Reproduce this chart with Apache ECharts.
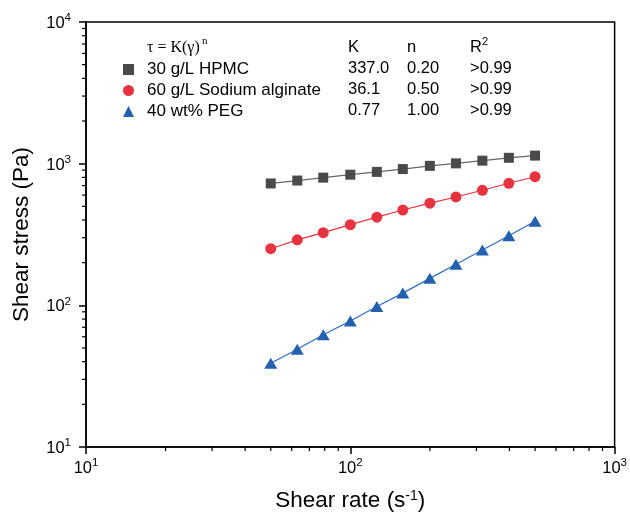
<!DOCTYPE html>
<html>
<head>
<meta charset="utf-8">
<script src="https://cdn.jsdelivr.net/npm/echarts@6/dist/echarts.min.js"></script>
<style>
  html, body { margin: 0; padding: 0; background: #fff; }
  #main { width: 630px; height: 518px; }
</style>
</head>
<body>
<div id="main"></div>
<script>
// shear rates (s^-1)
const shearRate = [50, 63, 79, 100, 126, 158, 200, 251, 316, 398, 500];
// shear stress (Pa)
const hpmc = [725, 760, 797, 836, 875, 916, 965, 1005, 1050, 1100, 1140];
const alginate = [251, 290, 326, 371, 419, 471, 526, 582, 649, 727, 809];
const peg = [39, 49, 62, 77.5, 98, 122, 155, 195, 246, 310, 392];

const seriesNames = ['30 g/L HPMC', '60 g/L Sodium alginate', '40 wt% PEG'];
const kVals = ['337.0', '36.1', '0.77'];
const nVals = ['0.20', '0.50', '1.00'];
const r2Vals = ['>0.99', '>0.99', '>0.99'];

// minor tick positions for the log axes
const xMinor = [20, 30, 40, 50, 60, 70, 80, 90, 200, 300, 400, 500, 600, 700, 800, 900];
const yMinor = [20, 30, 40, 50, 60, 70, 80, 90, 200, 300, 400, 500, 600, 700, 800, 900,
                2000, 3000, 4000, 5000, 6000, 7000, 8000, 9000];

const font = 'Arial, "Liberation Sans", sans-serif';
const serif = '"Liberation Serif", "Times New Roman", serif';
const pair = (ys) => shearRate.map((x, i) => [x, ys[i]]);

const chart = echarts.init(document.getElementById('main'));

const powRich = {
  b: { fontSize: 16.5, fontFamily: font, color: '#000', verticalAlign: 'bottom', lineHeight: 20 },
  s: { fontSize: 11.5, fontFamily: font, color: '#000', verticalAlign: 'top', lineHeight: 20, padding: [0, 0, 6, 0] }
};
const powLabel = (v) => '{b|10}{s|' + Math.round(Math.log10(v)) + '}';

const rowY = [68, 89, 110];
const graphics = [
  { type: 'text', left: 147, top: 40, style: { text: 'τ = K(γ)', fontFamily: serif, fontSize: 16, fill: '#000' } },
  { type: 'text', left: 202, top: 36, style: { text: 'n', fontFamily: serif, fontSize: 11, fill: '#000' } },
  { type: 'text', left: 348, top: 39, style: { text: 'K', fontFamily: font, fontSize: 16.5, fill: '#000' } },
  { type: 'text', left: 407, top: 39, style: { text: 'n', fontFamily: font, fontSize: 16.5, fill: '#000' } },
  { type: 'text', left: 470, top: 39, style: { text: 'R', fontFamily: font, fontSize: 16.5, fill: '#000' } },
  { type: 'text', left: 482, top: 36, style: { text: '2', fontFamily: font, fontSize: 11, fill: '#000' } }
];
[kVals, nVals, r2Vals].forEach((col, c) => {
  const x = [348, 407, 470][c];
  col.forEach((t, r) => {
    graphics.push({ type: 'text', left: x, top: rowY[r] - 8, style: { text: t, fontFamily: font, fontSize: 16.5, fill: '#000' } });
  });
});

chart.setOption({
  animation: false,
  backgroundColor: '#fff',
  grid: {
    left: 86, right: 14, top: 22, bottom: 71,
    show: true, borderColor: '#000', borderWidth: 1.5, backgroundColor: 'transparent'
  },
  legend: {
    orient: 'vertical',
    left: 118, top: 54,
    itemWidth: 11, itemHeight: 11, itemGap: 0,
    textStyle: { fontFamily: font, fontSize: 17, color: '#000', lineHeight: 21, padding: [0, 0, 0, 8] },
    data: [
      { name: seriesNames[0], icon: 'rect' },
      { name: seriesNames[1], icon: 'circle' },
      { name: seriesNames[2], icon: 'triangle' }
    ],
    selectedMode: false
  },
  graphic: graphics,
  xAxis: {
    type: 'log', logBase: 10, min: 10, max: 1000,
    name: 'Shear rate (s{s|-1})',
    nameLocation: 'middle', nameGap: 42,
    nameTextStyle: {
      fontFamily: font, fontSize: 22.5, color: '#000',
      rich: { s: { fontFamily: font, fontSize: 14, color: '#000', verticalAlign: 'top', padding: [0, 0, 9, 0] } }
    },
    axisLine: { lineStyle: { color: '#000', width: 1.5 } },
    axisTick: { show: true, inside: false, length: 7, lineStyle: { color: '#000', width: 1.5 } },
    axisLabel: { margin: 10, formatter: powLabel, rich: powRich },
    splitLine: { show: false }
  },
  yAxis: {
    type: 'log', logBase: 10, min: 10, max: 10000,
    name: 'Shear stress (Pa)',
    nameLocation: 'middle', nameGap: 53,
    nameTextStyle: { fontFamily: font, fontSize: 22.5, color: '#000' },
    axisLine: { lineStyle: { color: '#000', width: 1.5 } },
    axisTick: { show: true, inside: false, length: 7, lineStyle: { color: '#000', width: 1.5 } },
    axisLabel: { margin: 15, formatter: powLabel, rich: powRich },
    splitLine: { show: false }
  },
  series: [
    {
      name: seriesNames[0], type: 'line', data: pair(hpmc),
      symbol: 'rect', symbolSize: 10,
      itemStyle: { color: '#4a4a4a' },
      lineStyle: { color: '#666', width: 1.2 }
    },
    {
      name: seriesNames[1], type: 'line', data: pair(alginate),
      symbol: 'circle', symbolSize: 11,
      itemStyle: { color: '#e6333f' },
      lineStyle: { color: '#e6333f', width: 1.2 }
    },
    {
      name: seriesNames[2], type: 'line', data: pair(peg),
      symbol: 'triangle', symbolSize: [13, 11],
      itemStyle: { color: '#2361ae' },
      lineStyle: { color: '#2f6cbf', width: 1.2 }
    },
    {
      type: 'custom', silent: true,
      data: xMinor.map((v) => [v, 10]),
      renderItem: (params, api) => {
        const p = api.coord([api.value(0), api.value(1)]);
        return { type: 'line', shape: { x1: p[0], y1: p[1], x2: p[0], y2: p[1] + 4 }, style: { stroke: '#000', lineWidth: 1.2 } };
      }
    },
    {
      type: 'custom', silent: true,
      data: yMinor.map((v) => [10, v]),
      renderItem: (params, api) => {
        const p = api.coord([api.value(0), api.value(1)]);
        return { type: 'line', shape: { x1: p[0] - 4, y1: p[1], x2: p[0], y2: p[1] }, style: { stroke: '#000', lineWidth: 1.2 } };
      }
    }
  ]
});
</script>
</body>
</html>
